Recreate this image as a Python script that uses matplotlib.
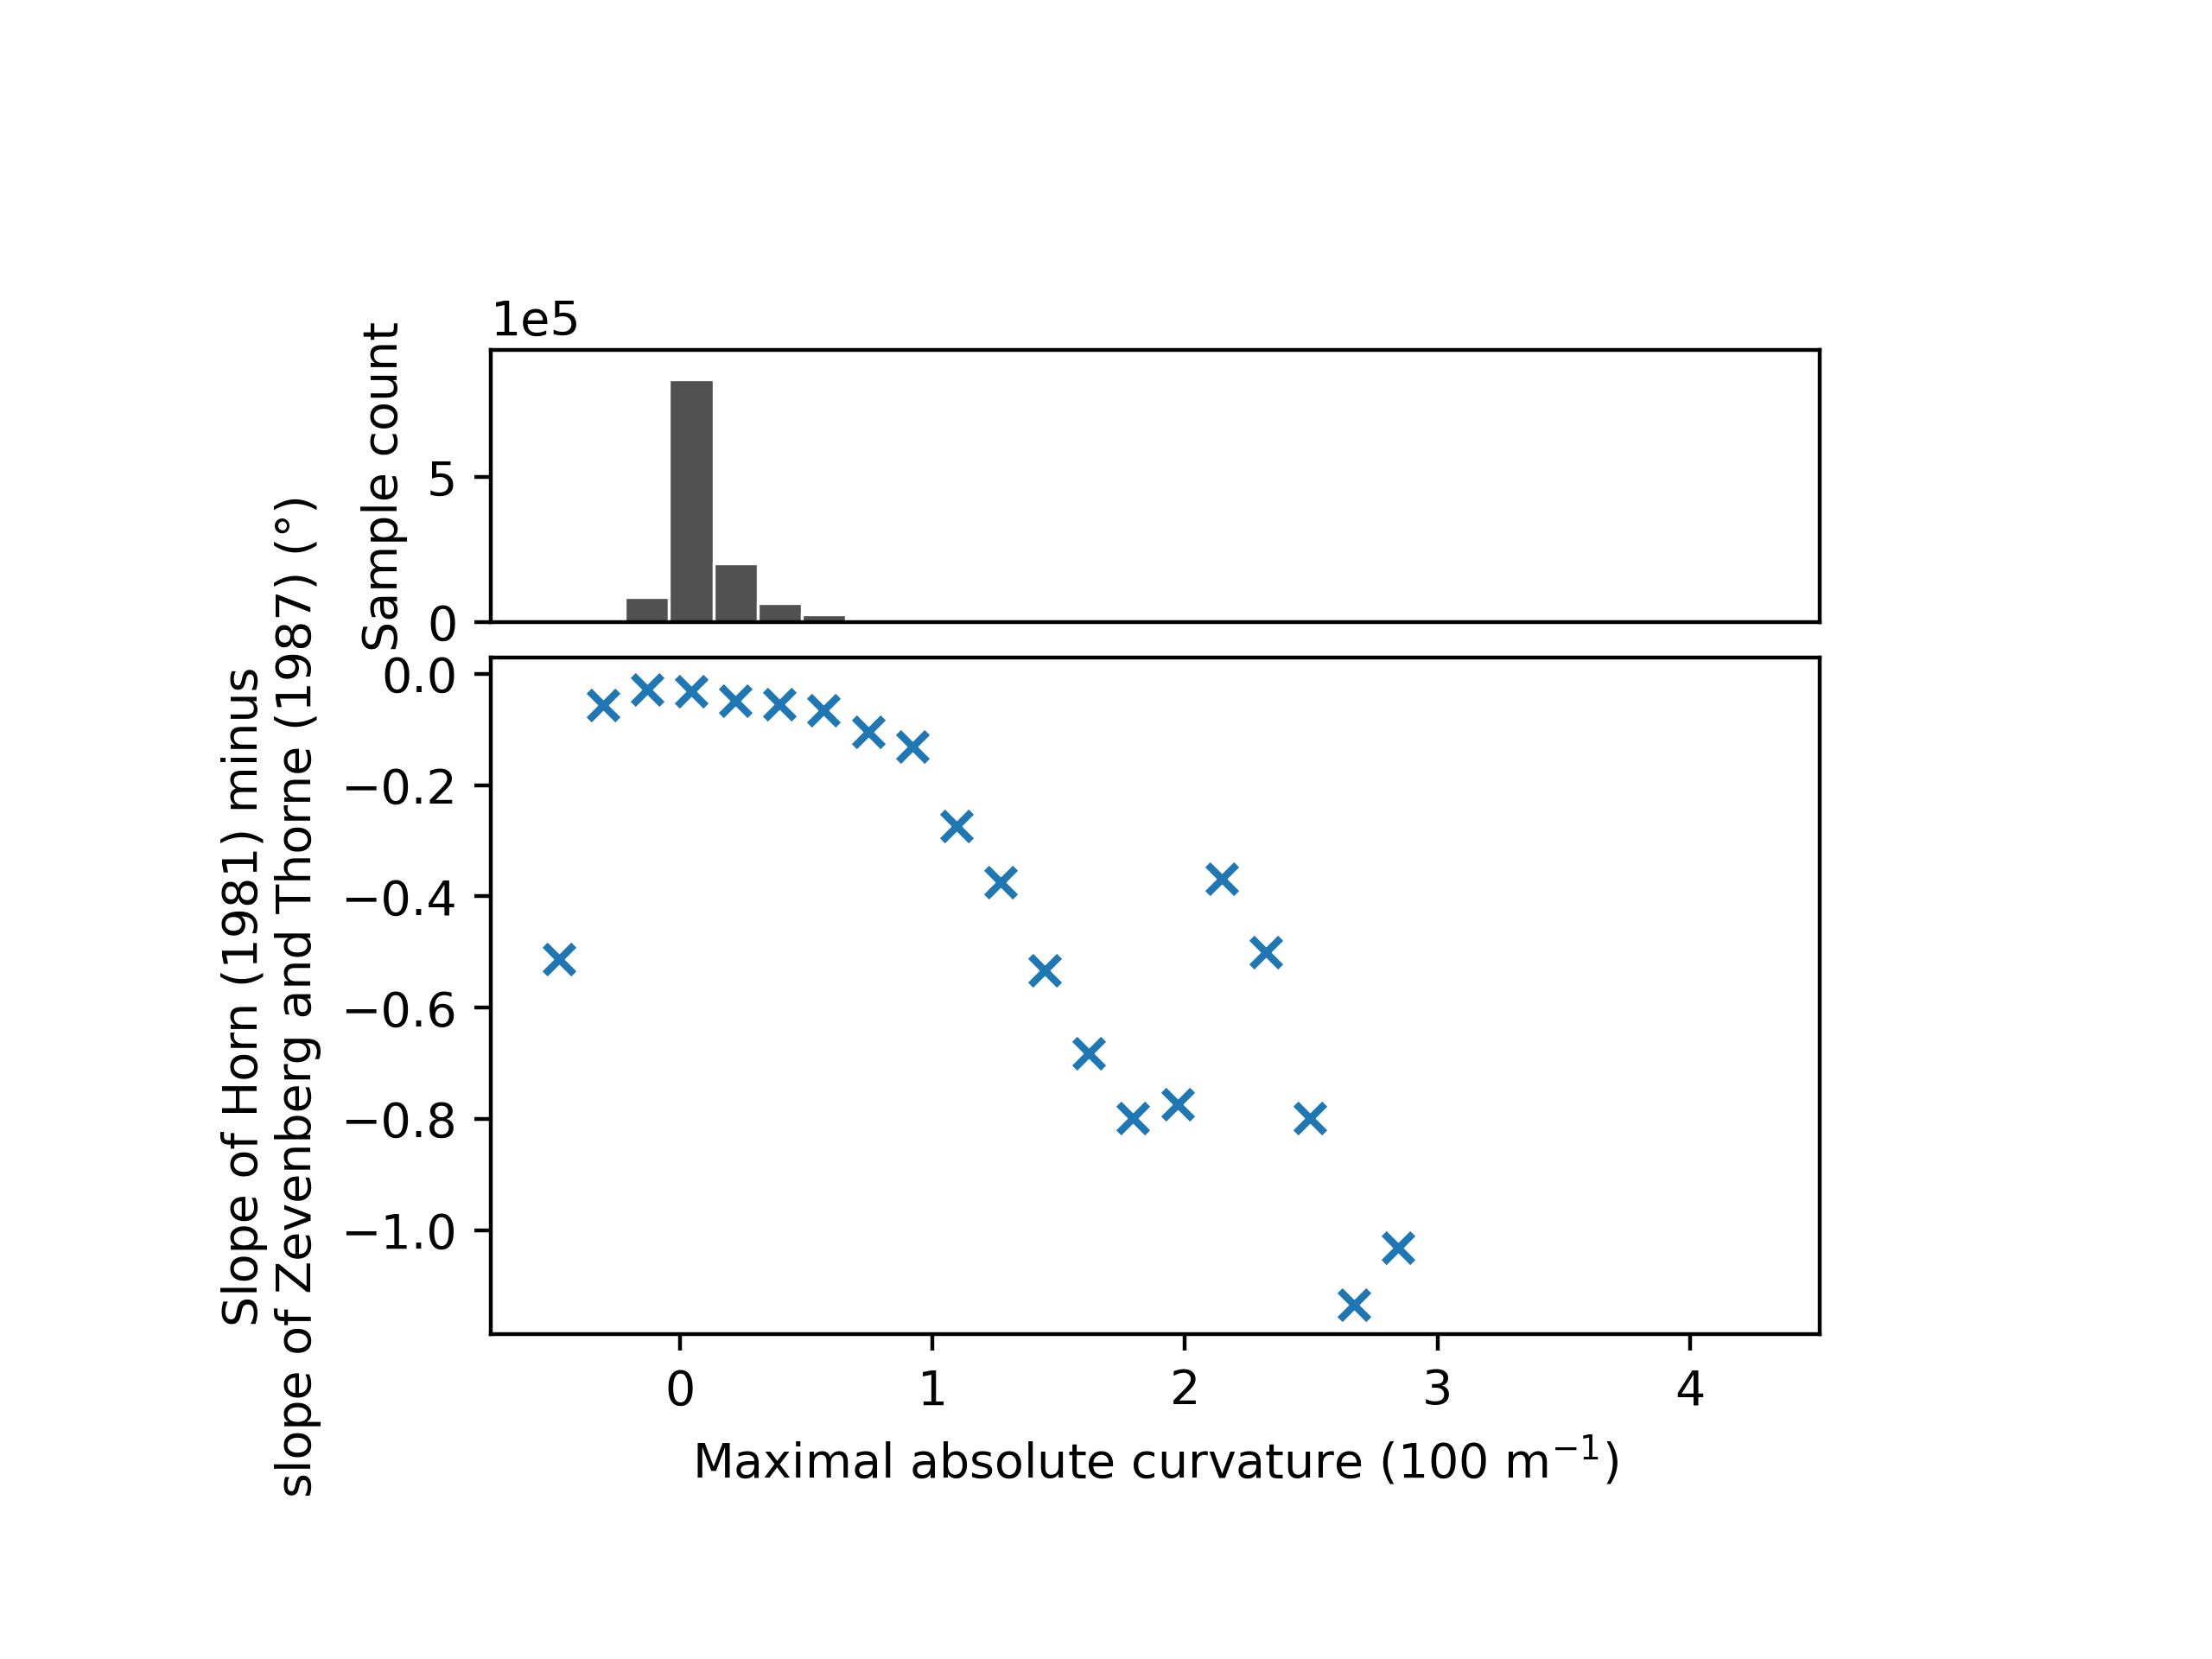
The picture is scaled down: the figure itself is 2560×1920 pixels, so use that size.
# 直方图 + 散点图：曲率与坡度差
import matplotlib
matplotlib.use('Agg')
import matplotlib.pyplot as plt
import numpy as np

# 曲率分箱中心 (100 m^-1)
curv_bins = [-0.480, -0.305, -0.130, 0.045, 0.220, 0.395, 0.570, 0.745, 0.920, 1.095,
             1.270, 1.445, 1.620, 1.795, 1.970, 2.145, 2.320, 2.495, 2.670, 2.845]
bin_width = 0.175

# 每个分箱的样本数
sample_counts = [0, 0, 0.88e5, 8.39e5, 2.03e5, 0.65e5, 0.27e5, 0.09e5, 0.02e5, 0.01e5,
                 0.005e5, 0.002e5, 0.001e5, 0, 0, 0, 0, 0, 0, 0]

# 坡度差 (°)
slope_diff = [-0.513, -0.057, -0.028, -0.031, -0.049, -0.055, -0.065, -0.105, -0.130, -0.274,
              -0.375, -0.533, -0.682, -0.798, -0.774, -0.368, -0.500, -0.798, -1.133, -1.031]


def main():
    fig = plt.figure(figsize=(6.4, 4.8), dpi=400)
    ax_hist = fig.add_axes([0.2219, 0.6250, 0.6008, 0.1641])
    ax = fig.add_axes([0.2219, 0.1956, 0.6008, 0.4080], sharex=ax_hist)

    # 上方直方图
    ax_hist.bar(curv_bins, sample_counts, width=bin_width, color='#515151',
                edgecolor='white', linewidth=0.6)
    ax_hist.set_ylabel('Sample count')
    ax_hist.set_ylim(0, 9.4e5)
    ax_hist.ticklabel_format(axis='y', style='sci', scilimits=(0, 0))
    ax_hist.tick_params(axis='x', bottom=False, labelbottom=False)

    # 下方散点图
    ax.scatter(curv_bins, slope_diff, marker='x', color='C0')
    ax.set_xlim(-0.7486, 4.514)
    ax.set_ylim(-1.187, 0.029)
    ax.set_xlabel('Maximal absolute curvature (100 m$^{-1}$)')
    ax.set_ylabel('Slope of Horn (1981) minus\nslope of Zevenberg and Thorne (1987) (°)')

    fig.savefig('out.png', dpi=400)


if __name__ == '__main__':
    main()
